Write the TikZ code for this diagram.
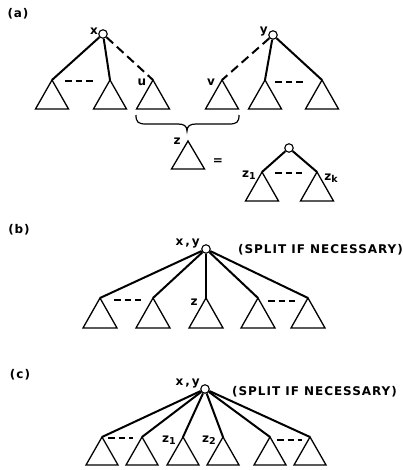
\documentclass[tikz,border=0pt]{standalone}
\usepackage{fontspec}
\setmainfont{DejaVu Sans}
\newfontfamily\lblfont[LetterSpace=8]{DejaVu Sans}
\begin{document}
\begin{tikzpicture}[x=1pt,y=-1pt,
  tri/.style={draw, line width=1.3pt, line join=miter},
  edge/.style={line width=2pt},
  dsh/.style={line width=2pt, dash pattern=on 9pt off 5pt},
  dl/.style={line width=1.8pt, dash pattern=on 6.5pt off 4pt},
  vtx/.style={circle, draw, line width=1.1pt, minimum size=8.5pt, inner sep=0pt, fill=white},
  lbl/.style={font=\lblfont\fontsize{12}{12}\selectfont\bfseries, inner sep=0pt},
  sub/.style={font=\lblfont\fontsize{12}{12}\selectfont\bfseries, inner sep=0pt}]
\useasboundingbox (0,0) rectangle (403,470);
\newcommand\trig[3]{\draw[tri] (#1) -- ++(-#2,#3) -- ++(2*#2,0) -- cycle;}
% ---------- (a)
\node[lbl] (la) at (18,14) {(a)};
\node[vtx] (x) at (103,34) {};
\node[vtx] (y) at (273,35) {};
\coordinate (a1) at (52,80);
\coordinate (a2) at (110,80);
\coordinate (a3) at (153,80);
\coordinate (a4) at (222,80);
\coordinate (a5) at (265,80);
\coordinate (a6) at (322,80);
\foreach \p in {a1,a2,a3,a4,a5,a6}{\trig{\p}{16.5}{29}}
\draw[edge] (x) -- (a1);
\draw[edge] (x) -- (a2);
\draw[dsh] (x) -- (a3);
\draw[dsh] (y) -- (a4);
\draw[edge] (y) -- (a5);
\draw[edge] (y) -- (a6);
\node[lbl, anchor=east] (lx) at (98,31) {x};
\node[lbl, anchor=east] (ly) at (268,32) {y};
\node[lbl] (lu) at (142,82) {u};
\node[lbl] (lv) at (211,82) {v};
\coordinate (d1s) at (65,81); \coordinate (d1e) at (95,81);
\coordinate (d2s) at (275,82); \coordinate (d2e) at (305,82);
\draw[dl] (d1s) -- (d1e);
\draw[dl] (d2s) -- (d2e);
% brace
\coordinate (bl) at (136,115);
\coordinate (br) at (239,115);
\coordinate (bt) at (187,131);
\draw[line width=1.2pt] (bl) .. controls (136,122) and (138,124) .. (146,124) -- (178,124)
  .. controls (184,124) and (187,126) .. (bt)
  .. controls (187,126) and (190,124) .. (196,124) -- (229,124)
  .. controls (237,124) and (239,122) .. (br);
% z
\coordinate (zt) at (188,141);
\trig{zt}{16.5}{28}
\node[lbl] (lz) at (177,141) {z};
\node[lbl] (eq) at (218,162) {=};
\node[vtx] (r) at (289,148) {};
\coordinate (s1) at (262,172);
\coordinate (s2) at (317,172);
\trig{s1}{16.5}{29}
\trig{s2}{16.5}{29}
\draw[edge] (r) -- (s1);
\draw[edge] (r) -- (s2);
\coordinate (d3s) at (275,173); \coordinate (d3e) at (302,173);
\draw[dl] (d3s) -- (d3e);
\node[sub] (lz1) at (249,175) {z\raisebox{-2pt}{\fontsize{9.5}{9.5}\selectfont 1}};
\node[sub] (lzk) at (331,178) {z\raisebox{-2pt}{\fontsize{9.5}{9.5}\selectfont k}};
% ---------- (b)
\node[lbl] (lb) at (19,230) {(b)};
\node[vtx] (xb) at (206,249) {};
\node[lbl, anchor=east] (lxb) at (200,244) {x\,,\,y};
\node[lbl, anchor=west] (spb) at (238,250) {(SPLIT IF NECESSARY)};
\foreach \i/\xx in {1/100,2/153,3/206,4/258,5/308}{
  \coordinate (b\i) at (\xx,298);
  \trig{b\i}{17}{30}
  \draw[edge] (xb) -- (b\i);
}
\node[lbl] (lzb) at (194,302) {z};
\coordinate (d4s) at (114,300); \coordinate (d4e) at (141,300);
\coordinate (d5s) at (268,301); \coordinate (d5e) at (295,301);
\draw[dl] (d4s) -- (d4e);
\draw[dl] (d5s) -- (d5e);
% ---------- (c)
\node[lbl] (lc) at (20,375) {(c)};
\node[vtx] (xc) at (205,389) {};
\node[lbl, anchor=east] (lxc) at (200,384) {x\,,\,y};
\node[lbl, anchor=west] (spc) at (232,392) {(SPLIT IF NECESSARY)};
\foreach \i/\xx in {1/102,2/142,3/183,4/223,5/270,6/310}{
  \coordinate (c\i) at (\xx,437);
  \trig{c\i}{16}{28}
  \draw[edge] (xc) -- (c\i);
}
\node[sub] (lz1c) at (169,440) {z\raisebox{-2pt}{\fontsize{9.5}{9.5}\selectfont 1}};
\node[sub] (lz2c) at (209,440) {z\raisebox{-2pt}{\fontsize{9.5}{9.5}\selectfont 2}};
\coordinate (d6s) at (108,438); \coordinate (d6e) at (133,438);
\coordinate (d7s) at (277,440); \coordinate (d7e) at (302,440);
\draw[dl] (d6s) -- (d6e);
\draw[dl] (d7s) -- (d7e);
\end{tikzpicture}
\end{document}
